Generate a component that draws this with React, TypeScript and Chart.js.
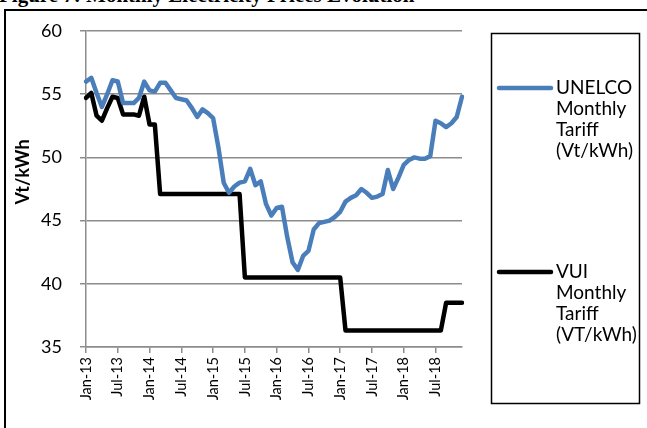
import { useEffect, useRef } from 'react';
import { Chart, registerables } from 'chart.js';

Chart.register(...registerables);

const years = ['13', '14', '15', '16', '17', '18'];
const monthNames = ['Jan', 'Feb', 'Mar', 'Apr', 'May', 'Jun', 'Jul', 'Aug', 'Sep', 'Oct', 'Nov', 'Dec'];
const categories = years.flatMap((y) => monthNames.map((m) => `${m}-${y}`));

const tickLabels = ['Jan-13', 'Jul-13', 'Jan-14', 'Jul-14', 'Jan-15', 'Jul-15', 'Jan-16', 'Jul-16', 'Jan-17', 'Jul-17', 'Jan-18', 'Jul-18'];

const unelco = [
  56.0, 56.3, 55.1, 54.0, 55.0, 56.1, 56.0, 54.3, 54.3, 54.3, 54.7, 56.0,
  55.3, 55.2, 55.9, 55.9, 55.3, 54.7, 54.6, 54.5, 53.9, 53.2, 53.8, 53.5,
  53.1, 50.8, 48.0, 47.2, 47.7, 48.0, 48.1, 49.1, 47.8, 48.1, 46.3, 45.4,
  46.0, 46.1, 43.7, 41.7, 41.1, 42.2, 42.6, 44.3, 44.8, 44.9, 45.0, 45.3,
  45.7, 46.5, 46.8, 47.0, 47.5, 47.2, 46.8, 46.9, 47.1, 49.0, 47.5, 48.4,
  49.4, 49.8, 50.0, 49.9, 49.9, 50.1, 52.9, 52.7, 52.4, 52.7, 53.2, 54.8,
];

const vui = [
  54.7, 55.1, 53.3, 52.9, 53.9, 54.8, 54.7, 53.4, 53.4, 53.4, 53.3, 54.8,
  52.6, 52.6, 47.1, 47.1, 47.1, 47.1, 47.1, 47.1, 47.1, 47.1, 47.1, 47.1,
  47.1, 47.1, 47.1, 47.1, 47.1, 47.1, 40.5, 40.5, 40.5, 40.5, 40.5, 40.5,
  40.5, 40.5, 40.5, 40.5, 40.5, 40.5, 40.5, 40.5, 40.5, 40.5, 40.5, 40.5,
  40.5, 36.3, 36.3, 36.3, 36.3, 36.3, 36.3, 36.3, 36.3, 36.3, 36.3, 36.3,
  36.3, 36.3, 36.3, 36.3, 36.3, 36.3, 36.3, 36.3, 38.5, 38.5, 38.5, 38.5,
];

const seriesNames = ['UNELCO Monthly Tariff (Vt/kWh)', 'VUI Monthly Tariff (VT/kWh)'];
const legendLines = [
  ['UNELCO', 'Monthly', 'Tariff', '(Vt/kWh)'],
  ['VUI', 'Monthly', 'Tariff', '(VT/kWh)'],
];
const yTitle = 'Vt/kWh';
const chartTitle = 'Figure 7: Monthly Electricity Prices Evolution';

const BLUE = '#4A7EBB';
const GRID = '#8C8C8C';

export default function App() {
  const ref = useRef<HTMLCanvasElement | null>(null);

  useEffect(() => {
    if (!ref.current) return;

    const decor = {
      id: 'decor',
      afterDraw(chart: any) {
        const ctx = chart.ctx;
        ctx.save();
        // y-axis title
        ctx.translate(23, 172);
        ctx.rotate(-Math.PI / 2);
        ctx.font = 'bold 18px Lato';
        ctx.fillStyle = '#000';
        ctx.textAlign = 'center';
        ctx.textBaseline = 'middle';
        ctx.fillText(yTitle, 0, 0);
        ctx.restore();

        // legend box
        ctx.save();
        ctx.strokeStyle = '#000';
        ctx.lineWidth = 1.5;
        ctx.strokeRect(491.5, 33.5, 148, 370);
        const ys = [88, 272];
        chart.data.datasets.forEach((ds: any, k: number) => {
          ctx.beginPath();
          ctx.strokeStyle = ds.borderColor;
          ctx.lineWidth = 4.5;
          ctx.lineCap = 'round';
          ctx.moveTo(499, ys[k]);
          ctx.lineTo(551, ys[k]);
          ctx.stroke();
          ctx.font = '19px Lato';
          ctx.fillStyle = '#000';
          ctx.textAlign = 'left';
          ctx.textBaseline = 'middle';
          legendLines[k].forEach((t, j) => ctx.fillText(t, 556, ys[k] + j * 21));
        });
        ctx.restore();
      },
    };

    const chart = new Chart(ref.current, {
      type: 'line',
      data: {
        labels: categories,
        datasets: [
          {
            label: seriesNames[0],
            data: unelco,
            borderColor: BLUE,
            backgroundColor: BLUE,
            borderWidth: 4.5,
            pointRadius: 0,
            tension: 0,
            borderJoinStyle: 'round',
            borderCapStyle: 'round',
          },
          {
            label: seriesNames[1],
            data: vui,
            borderColor: '#000000',
            backgroundColor: '#000000',
            borderWidth: 4.5,
            pointRadius: 0,
            tension: 0,
            borderJoinStyle: 'round',
            borderCapStyle: 'round',
          },
        ],
      },
      options: {
        responsive: false,
        animation: false,
        layout: { padding: { left: 0, top: 31, right: 185, bottom: 0 } },
        plugins: {
          legend: { display: false },
          tooltip: { enabled: false },
          title: { display: false },
        },
        scales: {
          x: {
            type: 'category',
            offset: false,
            afterFit: (s: any) => { s.height = 81; },
            grid: {
              display: true,
              drawOnChartArea: false,
              drawTicks: true,
              tickLength: 6,
              lineWidth: 1.5,
              color: (c: any) => (tickLabels.includes(categories[c.index]) ? GRID : 'rgba(0,0,0,0)'),
            },
            border: { color: GRID, width: 1.5 },
            ticks: {
              autoSkip: false,
              maxRotation: 90,
              minRotation: 90,
              padding: 4,
              color: '#000',
              font: { family: 'Lato', size: 14.5 },
              callback: (_v: any, i: number) => (tickLabels.includes(categories[i]) ? categories[i] : ''),
            },
          },
          y: {
            min: 35,
            max: 60,
            afterFit: (s: any) => { s.width = 86; },
            grid: { color: GRID, lineWidth: 1.5, tickLength: 6 },
            border: { color: GRID, width: 1.5 },
            ticks: {
              stepSize: 5,
              padding: 18,
              color: '#000',
              font: { family: 'Lato', size: 18 },
            },
          },
        },
      },
      plugins: [decor],
    });

    return () => chart.destroy();
  }, []);

  return (
    <div style={{ position: 'fixed', left: 0, top: 0, width: 647, height: 428, overflow: 'hidden', background: '#fff' }}>
      <div
        style={{
          position: 'absolute',
          left: -1,
          top: -15,
          font: 'bold 21px "Liberation Serif"',
          lineHeight: '21px',
          whiteSpace: 'nowrap',
          color: '#000',
        }}
      >
        {chartTitle}
      </div>
      <div style={{ position: 'absolute', left: 4, top: 9, width: 700, height: 500, border: '2px solid #000' }} />
      <canvas ref={ref} width={647} height={428} style={{ position: 'absolute', left: 0, top: 0 }} />
    </div>
  );
}
